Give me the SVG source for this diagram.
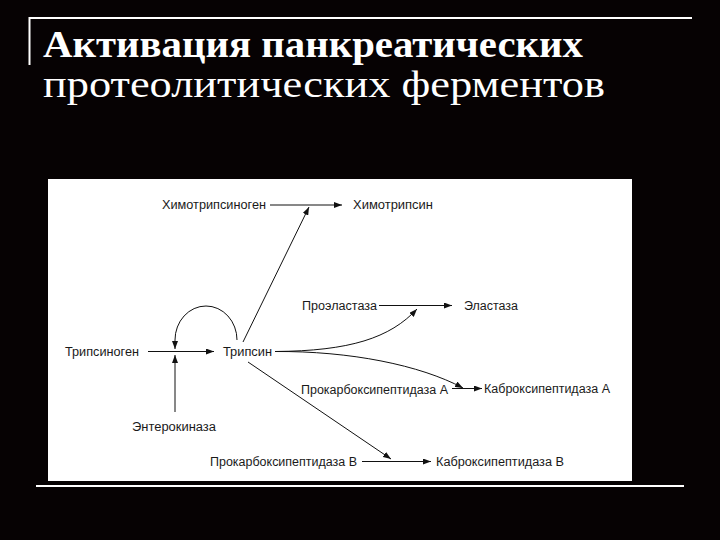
<svg xmlns="http://www.w3.org/2000/svg" width="720" height="540" viewBox="0 0 720 540">
<style>
.title{font-family:"Liberation Serif","Times New Roman",serif;fill:#fff;font-size:38px}
.lbl{font-family:"Liberation Sans",Arial,sans-serif;font-size:12px;fill:#1a1a1a}
.ln{stroke:#111;stroke-width:1;fill:none}
.arr{marker-end:url(#ah)}
</style>
<defs>
<marker id="ah" markerUnits="userSpaceOnUse" markerWidth="9" markerHeight="6" refX="8" refY="3" orient="auto">
<path d="M0,0 L8,3 L0,6 z" fill="#111"/>
</marker>
</defs>
<rect x="0" y="0" width="720" height="540" fill="#060203"/>
<g id="title">
<path d="M29.5,65 V18 H692" stroke="#fff" stroke-width="2" fill="none"/>
<text class="title" x="43" y="57" font-weight="bold" textLength="540" lengthAdjust="spacingAndGlyphs">Активация панкреатических</text>
<text class="title" x="43" y="97" textLength="562" lengthAdjust="spacingAndGlyphs">протеолитических ферментов</text>
<line x1="36" y1="486" x2="684" y2="486" stroke="#fff" stroke-width="2"/>
</g>
<rect x="48" y="179" width="584" height="302" fill="#fff"/>
<g id="connectors">
<line class="ln arr" x1="270" y1="205" x2="342" y2="205"/>
<line class="ln arr" x1="243" y1="342" x2="309" y2="207"/>
<line class="ln arr" x1="379" y1="305.5" x2="452" y2="305.5"/>
<path class="ln arr" d="M275,351.5 C350,351 390,338 417,309"/>
<line class="ln arr" x1="148" y1="351.5" x2="214" y2="351.5"/>
<path class="ln arr" d="M237,340 A31,34 0 1 0 175,340 L175,349"/>
<line class="ln arr" x1="175" y1="412" x2="175" y2="355"/>
<path class="ln arr" d="M275,351.5 C350,351 420,365 463,388"/>
<line class="ln arr" x1="452" y1="388.5" x2="482" y2="388.5"/>
<line class="ln arr" x1="248" y1="362" x2="391" y2="459"/>
<line class="ln arr" x1="362" y1="461.5" x2="431" y2="461.5"/>
</g>
<g id="n-chymotrypsinogen"><text class="lbl" x="162" y="209" textLength="104" lengthAdjust="spacingAndGlyphs">Химотрипсиноген</text></g>
<g id="n-chymotrypsin"><text class="lbl" x="353" y="209" textLength="80" lengthAdjust="spacingAndGlyphs">Химотрипсин</text></g>
<g id="n-proelastase"><text class="lbl" x="302" y="309.5" textLength="75" lengthAdjust="spacingAndGlyphs">Проэластаза</text></g>
<g id="n-elastase"><text class="lbl" x="464" y="309.5" textLength="54" lengthAdjust="spacingAndGlyphs">Эластаза</text></g>
<g id="n-trypsinogen"><text class="lbl" x="65" y="355.5" textLength="74" lengthAdjust="spacingAndGlyphs">Трипсиноген</text></g>
<g id="n-trypsin"><text class="lbl" x="223" y="355.5" textLength="49" lengthAdjust="spacingAndGlyphs">Трипсин</text></g>
<g id="n-enterokinase"><text class="lbl" x="132" y="430.5" textLength="84" lengthAdjust="spacingAndGlyphs">Энтерокиназа</text></g>
<g id="n-procarbA"><text class="lbl" x="301" y="394" textLength="147" lengthAdjust="spacingAndGlyphs">Прокарбоксипептидаза А</text></g>
<g id="n-carbA"><text class="lbl" x="484" y="393" textLength="126" lengthAdjust="spacingAndGlyphs">Каброксипептидаза А</text></g>
<g id="n-procarbB"><text class="lbl" x="210" y="465.5" textLength="147" lengthAdjust="spacingAndGlyphs">Прокарбоксипептидаза В</text></g>
<g id="n-carbB"><text class="lbl" x="436" y="465.5" textLength="128" lengthAdjust="spacingAndGlyphs">Каброксипептидаза В</text></g>
</svg>
